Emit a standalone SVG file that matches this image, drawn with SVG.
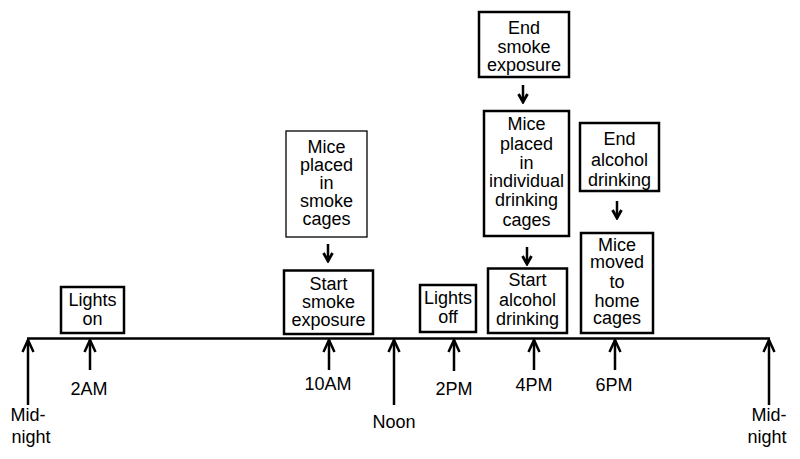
<svg xmlns="http://www.w3.org/2000/svg" width="800" height="459" viewBox="0 0 800 459">
<style>
text{font-family:"Liberation Sans",Arial,sans-serif;font-size:18px;fill:#000;text-anchor:middle}
.box{fill:#fff;stroke:#000;stroke-width:2.5}
.thin{fill:#fff;stroke:#000;stroke-width:1.3}
.ln{stroke:#000;stroke-width:2.5;fill:none}
.sm{stroke:#000;stroke-width:2.5;fill:none}
</style>
<defs>
<marker id="up" markerUnits="userSpaceOnUse" viewBox="-14 -8 16 16" refX="0" refY="0" markerWidth="16" markerHeight="16" orient="auto">
<path d="M-12,-5.5 L0,0 L-12,5.5" fill="none" stroke="#000" stroke-width="2.5"/>
</marker>
<marker id="dn" markerUnits="userSpaceOnUse" viewBox="-10 -6 12 12" refX="0" refY="0" markerWidth="12" markerHeight="12" orient="auto">
<path d="M-8,-4.5 L0,0 L-8,4.5" fill="none" stroke="#000" stroke-width="2.8"/>
</marker>
</defs>
<rect width="800" height="459" fill="#fff"/>
<g id="connectors">
<line class="ln" x1="27" y1="338.5" x2="770" y2="338.5"/>
<line class="ln" x1="28" y1="405" x2="28" y2="340" marker-end="url(#up)"/>
<line class="ln" x1="90" y1="370" x2="90" y2="340" marker-end="url(#up)"/>
<line class="ln" x1="329" y1="370" x2="329" y2="340" marker-end="url(#up)"/>
<line class="ln" x1="394" y1="405" x2="394" y2="340" marker-end="url(#up)"/>
<line class="ln" x1="454" y1="371" x2="454" y2="340" marker-end="url(#up)"/>
<line class="ln" x1="534" y1="370" x2="534" y2="340" marker-end="url(#up)"/>
<line class="ln" x1="615" y1="370" x2="615" y2="340" marker-end="url(#up)"/>
<line class="ln" x1="769" y1="405" x2="769" y2="340" marker-end="url(#up)"/>
<line class="sm" x1="328" y1="244" x2="328" y2="261" marker-end="url(#dn)"/>
<line class="sm" x1="523" y1="85" x2="523" y2="102" marker-end="url(#dn)"/>
<line class="sm" x1="527" y1="247" x2="527" y2="264" marker-end="url(#dn)"/>
<line class="sm" x1="617" y1="201" x2="617" y2="218" marker-end="url(#dn)"/>
</g>
<g id="labels">
<text x="28" y="421">Mid-</text>
<text x="31" y="443">night</text>
<text x="89" y="395">2AM</text>
<text x="328" y="390">10AM</text>
<text x="394" y="428">Noon</text>
<text x="454" y="395">2PM</text>
<text x="534" y="391">4PM</text>
<text x="614" y="391">6PM</text>
<text x="769" y="421">Mid-</text>
<text x="767" y="443">night</text>
</g>
<g id="lights-on">
<rect class="box" x="61" y="287" width="63" height="46"/>
<text x="92.5" y="306">Lights</text>
<text x="92.5" y="325">on</text>
</g>
<g id="mice-smoke-cages">
<rect class="thin" x="286" y="131" width="81" height="106"/>
<text x="326.5" y="153">Mice</text>
<text x="326.5" y="171">placed</text>
<text x="326.5" y="189">in</text>
<text x="326.5" y="207">smoke</text>
<text x="326.5" y="225">cages</text>
</g>
<g id="start-smoke">
<rect class="box" x="284" y="270.5" width="89" height="63.5"/>
<text x="328.5" y="290">Start</text>
<text x="328.5" y="308">smoke</text>
<text x="328.5" y="326">exposure</text>
</g>
<g id="lights-off">
<rect class="box" x="420" y="285" width="56" height="47"/>
<text x="448" y="304">Lights</text>
<text x="448" y="323">off</text>
</g>
<g id="end-smoke">
<rect class="box" x="479" y="12" width="90" height="65"/>
<text x="524" y="34">End</text>
<text x="524" y="53">smoke</text>
<text x="524" y="71">exposure</text>
</g>
<g id="mice-individual">
<rect class="box" x="484" y="111" width="85" height="125"/>
<text x="526.5" y="130">Mice</text>
<text x="526.5" y="150">placed</text>
<text x="526.5" y="169">in</text>
<text x="526.5" y="187">individual</text>
<text x="526.5" y="206">drinking</text>
<text x="526.5" y="226">cages</text>
</g>
<g id="start-alcohol">
<rect class="box" x="488" y="268.5" width="79" height="64.5"/>
<text x="527.5" y="286">Start</text>
<text x="527.5" y="306">alcohol</text>
<text x="527.5" y="325">drinking</text>
</g>
<g id="end-alcohol">
<rect class="box" x="580" y="123" width="79" height="68"/>
<text x="619.5" y="145">End</text>
<text x="619.5" y="166">alcohol</text>
<text x="619.5" y="186">drinking</text>
</g>
<g id="mice-home">
<rect class="box" x="581" y="233" width="72" height="100"/>
<text x="617" y="251">Mice</text>
<text x="617" y="268">moved</text>
<text x="617" y="288">to</text>
<text x="617" y="307">home</text>
<text x="617" y="324">cages</text>
</g>
</svg>
